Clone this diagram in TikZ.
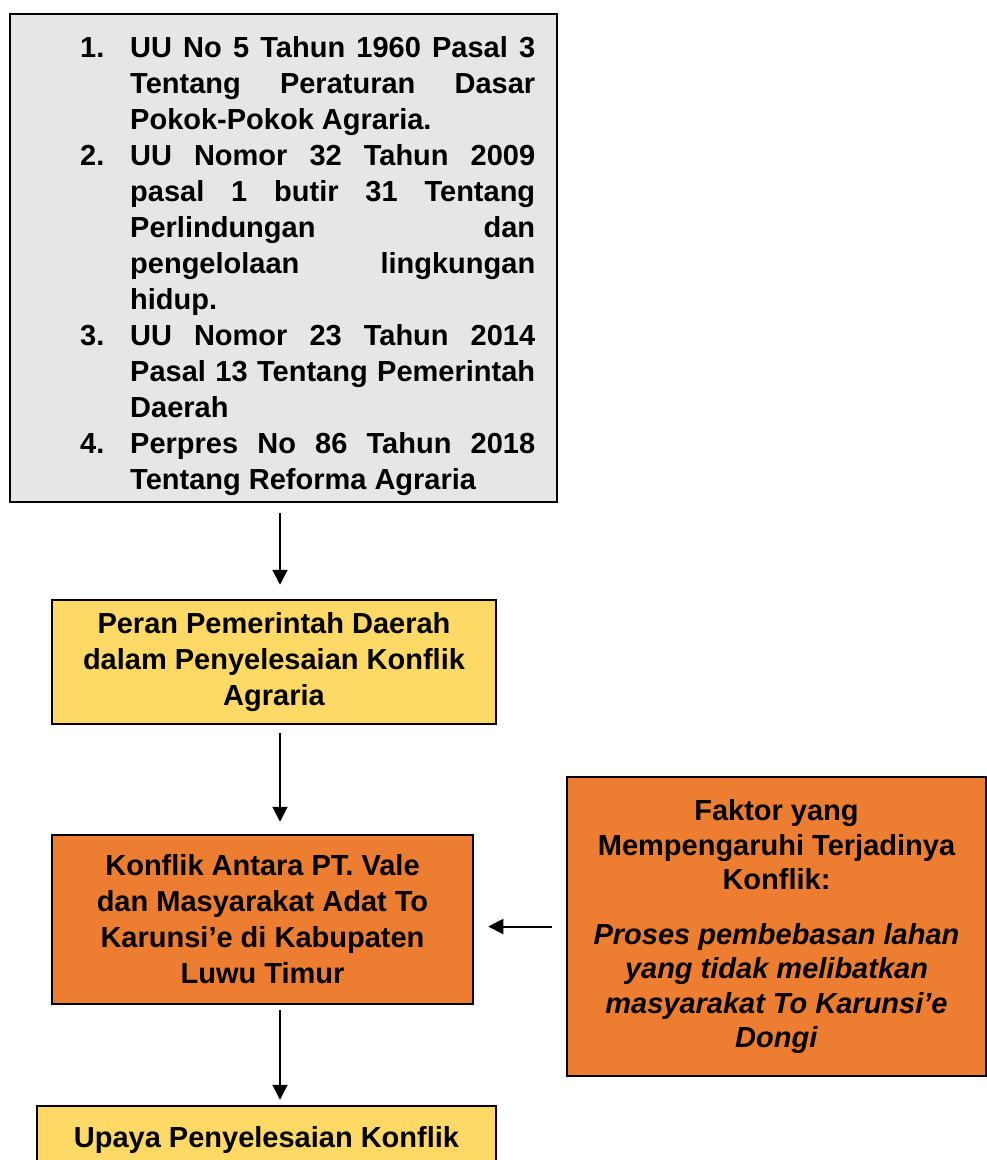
\documentclass[tikz,border=0pt]{standalone}
\usepackage{fontspec}
\setmainfont{Liberation Sans}
\usetikzlibrary{arrows.meta}
\definecolor{abu}{HTML}{E7E6E6}
\definecolor{kuning}{HTML}{FFD966}
\definecolor{oranye}{HTML}{ED7D31}
\tolerance=10000
\hbadness=10000
\newcommand\butir[1]{\par\noindent\hangindent=50pt\hangafter=0\llap{\makebox[50pt][l]{#1}}}
\begin{document}
\begin{tikzpicture}[x=1pt,y=-1pt,
        kotak/.style={draw, line width=2.5pt, align=center, inner sep=0pt, font=\fontsize{29}{36}\selectfont\bfseries},
        panah/.style={line width=2pt, -{Triangle[length=15pt,width=15pt]}}]
    \useasboundingbox (0,0) rectangle (987,1160);
    % dasar hukum
    \node[kotak, fill=abu, minimum width=547, minimum height=488] (dasar) at (283.5,258) {};
    \node[anchor=north west, inner sep=0pt, text width=455, align=justify, font=\fontsize{29}{36}\selectfont\bfseries]
        (dasarisi) at (80,21) {%
        \butir{1.}UU No 5 Tahun 1960 Pasal 3\linebreak Tentang Peraturan Dasar\linebreak Pokok-Pokok Agraria.
        \butir{2.}UU Nomor 32 Tahun 2009\linebreak pasal 1 butir 31 Tentang\linebreak Perlindungan dan\linebreak pengelolaan lingkungan\linebreak hidup.
        \butir{3.}UU Nomor 23 Tahun 2014\linebreak Pasal 13 Tentang Pemerintah\linebreak Daerah
        \butir{4.}Perpres No 86 Tahun 2018\linebreak Tentang Reforma Agraria\par};
    % alur
    \node[kotak, fill=kuning, minimum width=444, minimum height=124] (peran) at (274,662) {Peran Pemerintah Daerah\\dalam Penyelesaian Konflik\\Agraria};
    \node[kotak, fill=oranye, minimum width=421, minimum height=169] (konflik) at (262.5,919.5) {Konflik Antara PT. Vale\\dan Masyarakat Adat To\\Karunsi’e di Kabupaten\\Luwu Timur};
    \node[kotak, fill=oranye, minimum width=419, minimum height=299, font=\fontsize{29}{34.5}\selectfont\bfseries] (faktor) at (776.5,926.5)
        {Faktor yang\\Mempengaruhi Terjadinya\\Konflik:\\[20pt]\textit{Proses pembebasan lahan}\\\textit{yang tidak melibatkan}\\\textit{masyarakat To Karunsi’e}\\\textit{Dongi}};
    \node[kotak, fill=kuning, minimum width=459, minimum height=68] (upaya) at (266.5,1140) {Upaya Penyelesaian Konflik};
    \coordinate (poros) at (280,0);
    \draw[panah, shorten <=10pt, shorten >=14pt] (dasar.south -| poros) -- (peran.north -| poros);
    \draw[panah, shorten <=8pt, shorten >=12pt] (peran.south -| poros) -- (konflik.north -| poros);
    \draw[panah, shorten <=5pt, shorten >=5pt] (konflik.south -| poros) -- (upaya.north -| poros);
    \draw[panah, shorten <=14pt, shorten >=14pt] (faktor.west) -- (faktor.west -| konflik.east);
\end{tikzpicture}
\end{document}
